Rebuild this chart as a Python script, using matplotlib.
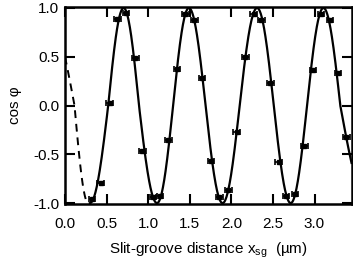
import numpy as np
import matplotlib
matplotlib.use("Agg")
import matplotlib.pyplot as plt

# measured points (slit-groove distance in um, cos phi)
x_sg = [0.325, 0.429, 0.536, 0.631, 0.734, 0.845, 0.932, 1.06, 1.143, 1.244,
        1.345, 1.449, 1.556, 1.646, 1.754, 1.857, 1.964, 2.063, 2.167, 2.27,
        2.36, 2.47, 2.571, 2.658, 2.765, 2.877, 2.98, 3.08, 3.185, 3.283, 3.381]
cos_phi = [-0.96, -0.79, 0.03, 0.89, 0.945, 0.49, -0.47, -0.94, -0.93, -0.35,
           0.37, 0.935, 0.877, 0.285, -0.566, -0.935, -0.87, -0.275, 0.50, 0.94,
           0.877, 0.23, -0.58, -0.93, -0.91, -0.41, 0.364, 0.94, 0.877, 0.336, -0.32]
x_err = 0.04

# fitted curve, read off as phase landmarks (in quarter turns, cos of phase)
# extrapolated part (dashed)
dash_x = [0.0, 0.115, 0.28]
dash_phase = [0.667, 1, 2]
# fitted range (solid): troughs, zero crossings and peaks
fit_x = [0.30, 0.52, 0.705, 0.89, 1.107, 1.30, 1.49, 1.69, 1.895, 2.10,
         2.31, 2.51, 2.714, 2.91, 3.107, 3.31, 3.445]
fit_phase = [2, 3, 4, 5, 6, 7, 8, 9, 10, 11, 12, 13, 14, 15, 16, 17, 17.4]

plt.rcParams['font.family'] = ['Liberation Sans', 'DejaVu Sans']
plt.rcParams['mathtext.default'] = 'regular'

fig = plt.figure(figsize=(3.53, 2.59), dpi=100)
ax = fig.add_axes([0.184, 0.212, 0.813, 0.761])

xs = np.linspace(dash_x[0], dash_x[-1], 80)
ax.plot(xs, np.cos(np.interp(xs, dash_x, dash_phase) * np.pi / 2),
        color='black', lw=1.4, dashes=(4, 3))
xs = np.linspace(fit_x[0], fit_x[-1], 800)
ax.plot(xs, np.cos(np.interp(xs, fit_x, fit_phase) * np.pi / 2),
        color='black', lw=1.6)

ax.errorbar(x_sg, cos_phi, xerr=x_err, fmt='s', color='black', ms=2.5,
            elinewidth=1.2, capsize=2, capthick=1.2)

ax.set_xlim(0, 3.45)
ax.set_ylim(-1.01, 1.01)
ax.set_xticks([0.0, 0.5, 1.0, 1.5, 2.0, 2.5, 3.0])
ax.set_yticks([-1.0, -0.5, 0.0, 0.5, 1.0])
ax.set_xticklabels(["0.0", "0.5", "1.0", "1.5", "2.0", "2.5", "3.0"])
ax.set_yticklabels(["-1.0", "-0.5", "0.0", "0.5", "1.0"])
ax.tick_params(direction='in', top=True, right=True, length=7, width=1.5,
               labelsize=11, pad=4)
ax.tick_params(axis='x', pad=9)
for s in ax.spines.values():
    s.set_linewidth(1.8)

ax.set_xlabel("Slit-groove distance x$_{sg}$  (µm)", fontsize=11, labelpad=7)
ax.set_ylabel("cos φ", fontsize=11, labelpad=8)

fig.savefig("out.png", dpi=100)
